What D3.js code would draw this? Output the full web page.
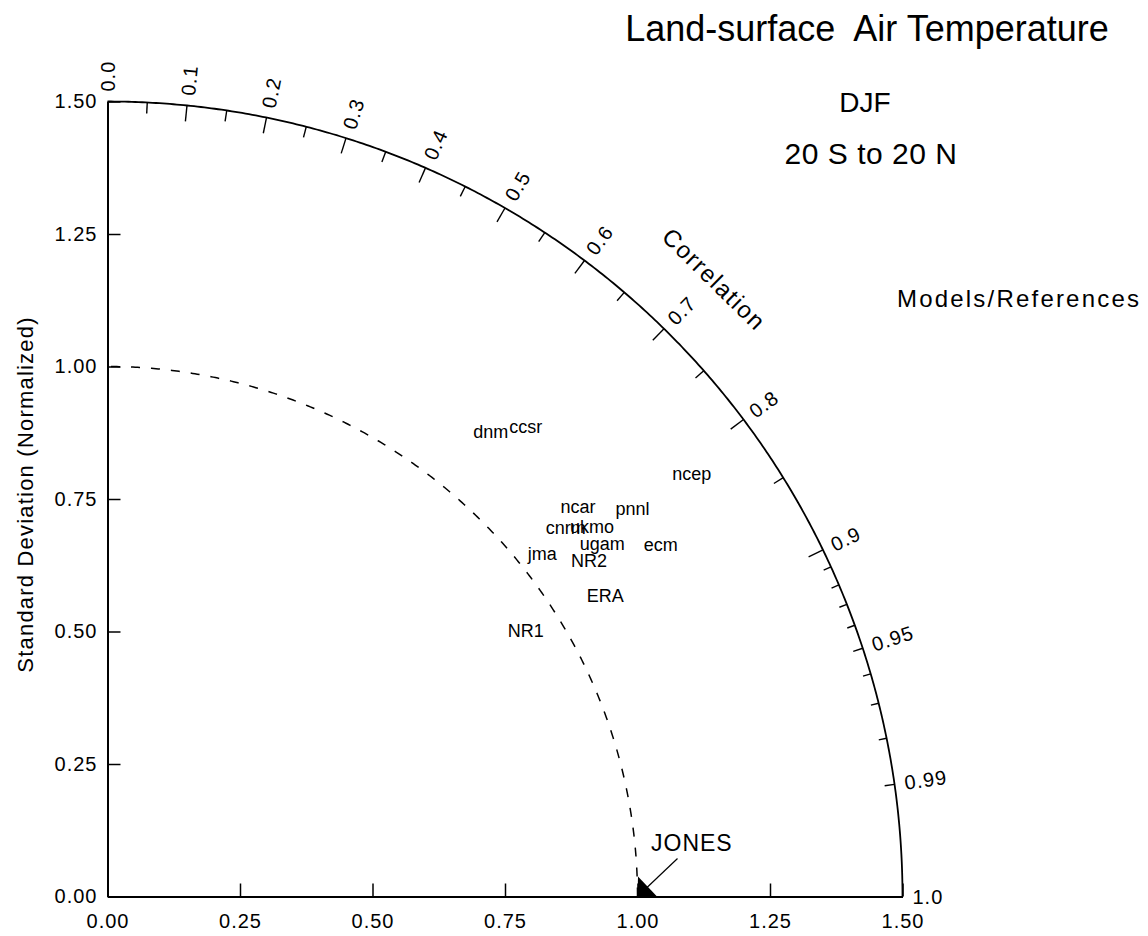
<!DOCTYPE html>
<html>
<head>
<meta charset="utf-8">
<script src="https://cdn.jsdelivr.net/npm/d3@7"></script>
<style>
  html, body { margin: 0; padding: 0; background: #fff; }
  svg { display: block; font-family: "Liberation Sans", Arial, Helvetica, sans-serif; }
</style>
</head>
<body>
<svg id="chart" width="1148" height="936"></svg>
<script>
// ---- Data ----
const models = ["dnm", "ccsr", "ncep", "ncar", "pnnl", "cnrm", "ukmo", "ugam", "ecm", "jma", "NR2", "ERA", "NR1"];
const stdDev = [1.137, 1.187, 1.361, 1.153, 1.232, 1.110, 1.150, 1.147, 1.237, 1.045, 1.108, 1.097, 0.935];
const correlation = [0.636, 0.665, 0.810, 0.770, 0.804, 0.779, 0.795, 0.814, 0.844, 0.785, 0.820, 0.856, 0.844];

const refNames = ["JONES"];
const refStd = [1.0];
const refCorr = [1.0];

const sdTicks = [0, 0.25, 0.5, 0.75, 1.0, 1.25, 1.5];
const corrLabelTicks = [0.0, 0.1, 0.2, 0.3, 0.4, 0.5, 0.6, 0.7, 0.8, 0.9, 0.95, 0.99, 1.0];
const corrLabelText = ["0.0", "0.1", "0.2", "0.3", "0.4", "0.5", "0.6", "0.7", "0.8", "0.9", "0.95", "0.99", "1.0"];
const corrMinorTicks = [0.05, 0.15, 0.25, 0.35, 0.45, 0.55, 0.65, 0.75, 0.85];
const corrFineTicks = [0.91, 0.92, 0.93, 0.94, 0.96, 0.97, 0.98];

const titleText = "Land-surface  Air Temperature";
const seasonText = "DJF";
const regionText = "20 S to 20 N";
const legendTitle = "Models/References";
const yTitle = "Standard Deviation (Normalized)";
const corrTitle = "Correlation";

// ---- Layout ----
const svg = d3.select("#chart");
const maxSD = 1.5;
const x = d3.scaleLinear().domain([0, maxSD]).range([107.5, 902.5]);
const y = d3.scaleLinear().domain([0, maxSD]).range([896.5, 101.5]);
const pxPerUnit = x(1) - x(0);
const font = "'Liberation Sans', Arial, Helvetica, sans-serif";

function polar(r, c) {
  const th = Math.acos(Math.min(1, Math.max(-1, c)));
  return [x(r * Math.cos(th)), y(r * Math.sin(th))];
}

// ---- Axes ----
const xAxis = d3.axisBottom(x).tickValues(sdTicks).tickFormat(d3.format(".2f"))
  .tickSizeInner(-13).tickSizeOuter(0).tickPadding(17);
const yAxis = d3.axisLeft(y).tickValues(sdTicks).tickFormat(d3.format(".2f"))
  .tickSizeInner(-13).tickSizeOuter(0).tickPadding(10);

const gx = svg.append("g").attr("transform", `translate(0,${y(0)})`).call(xAxis);
const gy = svg.append("g").attr("transform", `translate(${x(0)},0)`).call(yAxis);
[gx, gy].forEach(g => {
  g.select(".domain").attr("stroke", "#000").attr("stroke-width", 2);
  g.selectAll(".tick line").attr("stroke", "#000").attr("stroke-width", 1.5);
  g.selectAll(".tick text").attr("fill", "#000").style("font-family", font)
    .style("font-size", "20px").style("letter-spacing", "1px");
});

// ---- Outer arc (max SD) ----
const arcLine = d3.line().x(d => x(d[0])).y(d => y(d[1]));
const angles = d3.range(0, 90.01, 0.25).map(a => a * Math.PI / 180);
svg.append("path")
  .attr("d", arcLine(angles.map(t => [maxSD * Math.cos(t), maxSD * Math.sin(t)])))
  .attr("fill", "none").attr("stroke", "#000").attr("stroke-width", 1.8);

// ---- Reference SD dashed arc ----
svg.append("path")
  .attr("d", arcLine(angles.map(t => [refStd[0] * Math.cos(t), refStd[0] * Math.sin(t)])))
  .attr("fill", "none").attr("stroke", "#000").attr("stroke-width", 1.5)
  .attr("stroke-dasharray", "9,11");

// ---- Correlation ticks ----
function tick(c, len) {
  const p1 = polar(maxSD, c);
  const p2 = polar(maxSD - len / pxPerUnit, c);
  svg.append("line").attr("x1", p1[0]).attr("y1", p1[1]).attr("x2", p2[0]).attr("y2", p2[1])
    .attr("stroke", "#000").attr("stroke-width", 1.4);
}
corrLabelTicks.forEach(c => {
  if (c === 0 || c === 1) return;
  tick(c, (c === 0.95 || c === 0.99) ? 10 : 16);
});
corrMinorTicks.forEach(c => tick(c, 11));
corrFineTicks.forEach(c => tick(c, 8));

// ---- Correlation labels ----
corrLabelTicks.forEach((c, i) => {
  const th = Math.acos(c) * 180 / Math.PI;
  const p = polar(maxSD + 10 / pxPerUnit, c);
  svg.append("text")
    .attr("transform", `translate(${p[0]},${p[1]}) rotate(${-th})`)
    .attr("dy", "0.35em")
    .attr("text-anchor", "start")
    .style("font-family", font).style("font-size", "20px").style("letter-spacing", "1px")
    .text(corrLabelText[i]);
});

// ---- Correlation title ----
{
  const thDeg = 45.5;
  const c = Math.cos(thDeg * Math.PI / 180);
  const p = polar(1.633, c);
  svg.append("text")
    .attr("transform", `translate(${p[0]},${p[1]}) rotate(${90 - thDeg})`)
    .attr("dy", "0.35em").attr("text-anchor", "middle")
    .style("font-family", font).style("font-size", "24px").style("letter-spacing", "1.5px")
    .text(corrTitle);
}

// ---- Y-axis title ----
svg.append("text")
  .attr("transform", `translate(33,${(322 + 667) / 2}) rotate(-90)`)
  .attr("text-anchor", "middle")
  .style("font-family", font).style("font-size", "22px").style("letter-spacing", "1.2px")
  .text(yTitle);

// ---- Titles ----
svg.append("text").attr("x", 867).attr("y", 41).attr("text-anchor", "middle")
  .style("font-family", font).style("font-size", "36px").style("white-space", "pre")
  .text(titleText);
svg.append("text").attr("x", 865).attr("y", 112).attr("text-anchor", "middle")
  .style("font-family", font).style("font-size", "28px")
  .text(seasonText);
svg.append("text").attr("x", 871).attr("y", 164).attr("text-anchor", "middle")
  .style("font-family", font).style("font-size", "30px").style("letter-spacing", "0.5px")
  .text(regionText);
svg.append("text").attr("x", 897).attr("y", 307).attr("text-anchor", "start")
  .style("font-family", font).style("font-size", "24px").style("letter-spacing", "2.2px")
  .text(legendTitle);

// ---- Model labels (label centred on point) ----
const pts = models.map((m, i) => ({ name: m, p: polar(stdDev[i], correlation[i]) }));
svg.append("g").selectAll("text").data(pts).join("text")
  .attr("x", d => d.p[0]).attr("y", d => d.p[1])
  .attr("dy", "0.35em").attr("text-anchor", "middle")
  .style("font-family", font).style("font-size", "18px")
  .text(d => d.name);

// ---- Reference: arrow + label ----
refNames.forEach((name, i) => {
  const [px, py] = polar(refStd[i], refCorr[i]);
  const sx = px + 40, sy = py - 38;
  const dx = px - sx, dy = py - sy, L = Math.hypot(dx, dy);
  const ux = dx / L, uy = dy / L;
  const wing = 20, half = Math.PI / 4;
  const bx = -ux, by = -uy;
  const w1 = [px + wing * (bx * Math.cos(half) - by * Math.sin(half)), py + wing * (bx * Math.sin(half) + by * Math.cos(half))];
  const w2 = [px + wing * (bx * Math.cos(-half) - by * Math.sin(-half)), py + wing * (bx * Math.sin(-half) + by * Math.cos(-half))];
  svg.append("line").attr("x1", sx).attr("y1", sy).attr("x2", px).attr("y2", py)
    .attr("stroke", "#000").attr("stroke-width", 1.2);
  svg.append("path").attr("d", `M${px},${py}L${w1[0]},${w1[1]}L${w2[0]},${w2[1]}Z`).attr("fill", "#000");
  svg.append("text").attr("x", px + 13.5).attr("y", py - 45.5)
    .style("font-family", font).style("font-size", "23px").style("letter-spacing", "1px")
    .text(name);
});
</script>
</body>
</html>
